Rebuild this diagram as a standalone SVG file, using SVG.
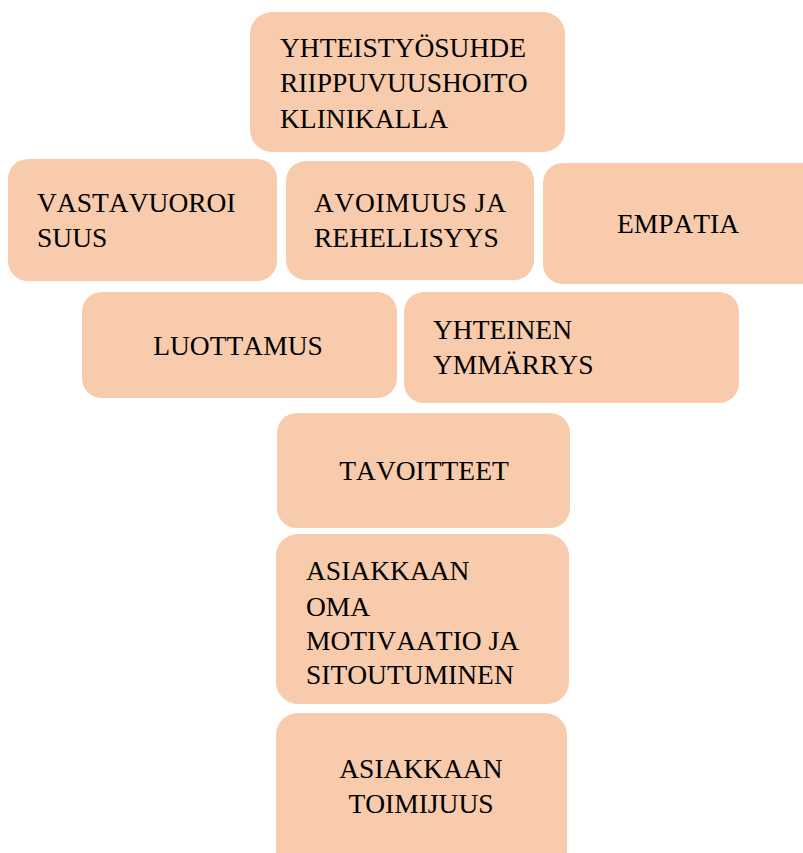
<svg xmlns="http://www.w3.org/2000/svg" width="803" height="853" viewBox="0 0 803 853">
<style>
.box{fill:#F7CBAC;}
.t{font-family:"Liberation Serif","Times New Roman",serif;font-size:27.5px;fill:#000;font-kerning:none;}
.c{text-anchor:middle;}
</style>
<rect width="803" height="853" fill="#FFFFFF"/>
<g id="connectors"></g>
<g id="n1"><rect class="box" x="250" y="12" width="315" height="140" rx="22"/>
<text class="t" x="280" y="57">YHTEISTYÖSUHDE</text>
<text class="t" x="280" y="92">RIIPPUVUUSHOITO</text>
<text class="t" x="280" y="128">KLINIKALLA</text></g>
<g id="n2"><rect class="box" x="8" y="159" width="269" height="122" rx="20"/>
<text class="t" x="37" y="212">VASTAVUOROI</text>
<text class="t" x="37" y="247">SUUS</text></g>
<g id="n3"><rect class="box" x="286" y="161" width="248" height="119" rx="20"/>
<text class="t" x="314" y="212" textLength="192" lengthAdjust="spacing">AVOIMUUS JA</text>
<text class="t" x="314" y="247">REHELLISYYS</text></g>
<g id="n4"><rect class="box" x="543" y="163" width="280" height="121" rx="20"/>
<text class="t c" x="678" y="233">EMPATIA</text></g>
<g id="n5"><rect class="box" x="82" y="292" width="315" height="106" rx="20"/>
<text class="t c" x="238" y="355">LUOTTAMUS</text></g>
<g id="n6"><rect class="box" x="404" y="292" width="335" height="111" rx="20"/>
<text class="t" x="433" y="339">YHTEINEN</text>
<text class="t" x="433" y="374">YMMÄRRYS</text></g>
<g id="n7"><rect class="box" x="277" y="413" width="293" height="115" rx="20"/>
<text class="t c" x="424" y="480">TAVOITTEET</text></g>
<g id="n8"><rect class="box" x="276" y="534" width="293" height="170" rx="22"/>
<text class="t" x="306" y="580">ASIAKKAAN</text>
<text class="t" x="306" y="616">OMA</text>
<text class="t" x="306" y="650">MOTIVAATIO JA</text>
<text class="t" x="306" y="684">SITOUTUMINEN</text></g>
<g id="n9"><rect class="box" x="276" y="713" width="291" height="160" rx="22"/>
<text class="t c" x="421" y="778">ASIAKKAAN</text>
<text class="t c" x="421" y="813">TOIMIJUUS</text></g>
</svg>
